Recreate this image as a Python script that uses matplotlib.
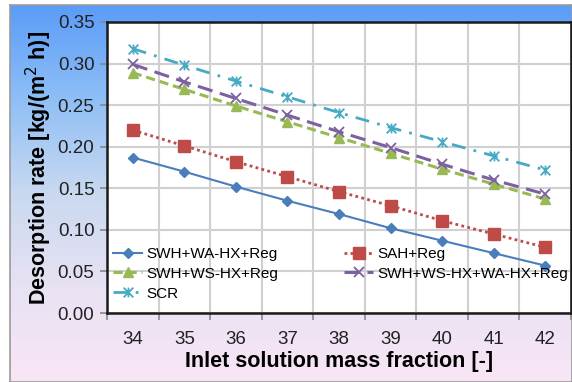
import numpy as np
import matplotlib
matplotlib.use("Agg")
import matplotlib.pyplot as plt
from matplotlib.path import Path
from matplotlib.colors import LinearSegmentedColormap

plt.rcParams['font.family'] = ['Liberation Sans', 'DejaVu Sans']

fractions = [34, 35, 36, 37, 38, 39, 40, 41, 42]
swh_wa = [0.187, 0.170, 0.152, 0.135, 0.119, 0.102, 0.087, 0.072, 0.057]
sah = [0.220, 0.201, 0.182, 0.164, 0.146, 0.129, 0.111, 0.095, 0.079]
swh_ws = [0.289, 0.269, 0.249, 0.230, 0.211, 0.192, 0.173, 0.155, 0.137]
swh_ws_wa = [0.299, 0.278, 0.258, 0.238, 0.218, 0.199, 0.179, 0.160, 0.143]
scr = [0.318, 0.298, 0.279, 0.260, 0.241, 0.223, 0.206, 0.189, 0.172]
yticks = [0.00, 0.05, 0.10, 0.15, 0.20, 0.25, 0.30, 0.35]

W, H = 572, 382
fig = plt.figure(figsize=(W / 100, H / 100), dpi=100)
fig.patch.set_facecolor('white')

# gradient background
bg = fig.add_axes([10 / W, 0, 1 - 10 / W, (H - 5) / H], zorder=-10)
cmap = LinearSegmentedColormap.from_list('bg', ['#5a9cf8', '#8fbff6', '#c9d9f0', '#e8e2f3', '#f8e6f5'])
grad = np.linspace(0, 1, 256).reshape(-1, 1)
bg.imshow(grad, aspect='auto', cmap=cmap, extent=[0, 1, 0, 1], origin='upper')
bg.set_xticks([]); bg.set_yticks([])
for s in bg.spines.values():
    s.set_color('#9a9a9a'); s.set_linewidth(1.2)

L, R, T, B = 107, 571, 22, 313
ax = fig.add_axes([L / W, (H - B) / H, (R - L) / W, (B - T) / H])
ax.set_facecolor('white')

x = np.arange(len(fractions))

star = Path([(-1, -1), (1, 1), (-1, 1), (1, -1), (0, -1), (0, 1)],
            [Path.MOVETO, Path.LINETO, Path.MOVETO, Path.LINETO, Path.MOVETO, Path.LINETO])

h1, = ax.plot(x, swh_wa, color='#4a7ebb', lw=1.5, marker='D', ms=5, label='SWH+WA-HX+Reg')
h2, = ax.plot(x, sah, color='#be4b48', lw=2, ls=(0, (1, 1.2)), marker='s', ms=8, label='SAH+Reg')
h3, = ax.plot(x, swh_ws, color='#98b954', lw=2.2, ls=(0, (3, 1.6)), marker='^', ms=7, label='SWH+WS-HX+Reg')
h4, = ax.plot(x, swh_ws_wa, color='#7d60a0', lw=2.2, ls=(0, (5, 2.5)), marker='x', ms=7, mew=1.3,
              label='SWH+WS-HX+WA-HX+Reg')
h5, = ax.plot(x, scr, color='#46aac5', lw=2, ls=(0, (5, 3, 1, 3)), marker=star, ms=7, mew=1.3, label='SCR')

ax.set_xlim(-0.5, len(fractions) - 0.5)
ax.set_ylim(0, 0.35)
ax.set_xticks(x)
ax.set_xticklabels([str(f) for f in fractions])
ax.set_xticks(np.arange(-0.5, len(fractions), 1), minor=True)
ax.set_yticks(yticks)
ax.set_yticklabels([f'{v:.2f}' for v in yticks])
ax.tick_params(axis='x', which='major', length=0, labelsize=13.5, pad=13, colors='#222222')
ax.tick_params(axis='x', which='minor', length=5, width=1.2, color='#888888')
ax.tick_params(axis='y', which='major', length=5, width=1.2, color='#888888', labelsize=13.5, pad=4,
               labelcolor='#222222')
ax.grid(True, axis='y', which='major', color='#d0d0d0', lw=1.5)
ax.grid(True, axis='x', which='minor', color='#d0d0d0', lw=1.5)
ax.set_axisbelow(True)
for s in ax.spines.values():
    s.set_color('#1a1a1a'); s.set_linewidth(1.8)

ax.set_xlabel('Inlet solution mass fraction [-]', fontsize=15.5, fontweight='bold', labelpad=2)
ax.set_ylabel('Desorption rate [kg/(m$^2$ h)]', fontsize=15.5, fontweight='bold', labelpad=3)

leg = ax.legend(handles=[h1, h3, h5, h2, h4], ncol=2, frameon=False, fontsize=11,
                loc='upper left', bbox_to_anchor=(113 / W, (H - 247) / H), bbox_transform=fig.transFigure,
                borderpad=0, borderaxespad=0, handlelength=1.9, handletextpad=0.3,
                columnspacing=4.3, labelspacing=0.38)

fig.savefig('out.png', dpi=100)
